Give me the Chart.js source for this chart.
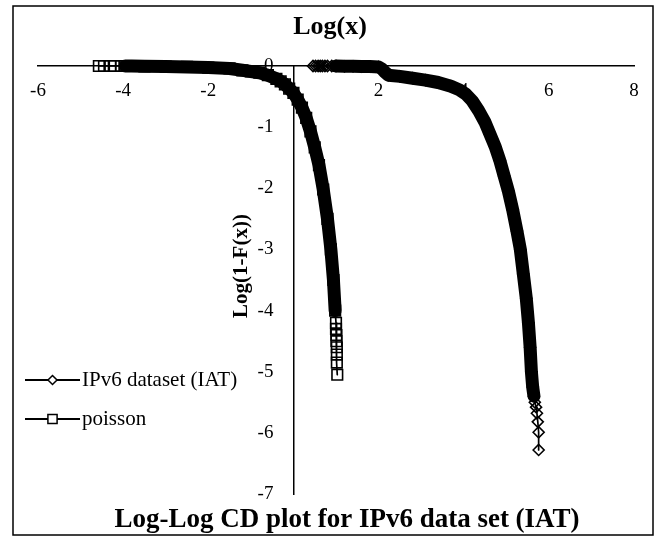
<!DOCTYPE html>
<html><head><meta charset="utf-8">
<script src="https://cdn.jsdelivr.net/npm/chart.js@4.4.1/dist/chart.umd.min.js"></script>
<style>html,body{margin:0;padding:0;background:#fff}#c{display:block}</style>
</head><body>
<canvas id="c" width="660" height="536"></canvas>
<script>
// ---- data ----
const seriesNames = ['IPv6 dataset (IAT)', 'poisson'];
const chartTitle = 'Log-Log CD plot for IPv6 data set (IAT)';
const xAxisTitle = 'Log(x)';
const yAxisTitle = 'Log(1-F(x))';
const xTickValues = [-6, -4, -2, 0, 2, 4, 6, 8];
const yTickValues = [0, -1, -2, -3, -4, -5, -6, -7];

const ipv6X = [0.46, 0.52, 0.58, 0.63, 0.68, 0.74, 0.80, 0.90, 1.00, 1.20, 1.40, 1.60, 1.80, 2.00, 2.08, 2.15, 2.23,
  2.50, 2.80, 3.10, 3.40, 3.70, 3.90, 4.05, 4.20, 4.35, 4.50, 4.62, 4.74, 4.85, 4.95, 5.05, 5.15, 5.25, 5.33,
  5.40, 5.47, 5.52, 5.56, 5.59, 5.62, 5.65, 5.67, 5.70, 5.72, 5.74, 5.76, 5.76];
const ipv6Y = [0, 0, 0, 0, 0, 0, 0, 0, 0, -0.005, -0.005, -0.01, -0.01, -0.015, -0.05, -0.10, -0.15,
  -0.17, -0.20, -0.23, -0.27, -0.33, -0.39, -0.46, -0.57, -0.73, -0.92, -1.12, -1.32, -1.55, -1.80, -2.05, -2.35, -2.70, -3.00,
  -3.40, -3.80, -4.20, -4.60, -5.00, -5.25, -5.40, -5.50, -5.58, -5.68, -5.82, -5.99, -6.28];

const poissonX = [-4.57, -4.45, -4.30, -4.22, -4.05, -3.95, -3.80, -3.50, -3.00, -2.50, -2.00, -1.50, -1.20, -1.00,
  -0.80, -0.60, -0.40, -0.30, -0.20, -0.10, 0.00, 0.10, 0.20, 0.30, 0.40, 0.50, 0.60, 0.70, 0.80, 0.88, 0.94, 0.98,
  1.00, 1.00, 1.01, 1.01, 1.02, 1.02, 1.02, 1.03];
const poissonY = [0, 0, 0, 0, 0, 0, 0, -0.005, -0.01, -0.015, -0.025, -0.04, -0.07, -0.09,
  -0.11, -0.15, -0.21, -0.25, -0.30, -0.37, -0.44, -0.55, -0.68, -0.85, -1.07, -1.33, -1.62, -2.02, -2.50, -3.00, -3.50, -4.00,
  -4.20, -4.30, -4.40, -4.50, -4.60, -4.72, -4.85, -5.05];

// ---- build ----
const toPts = (xs, ys) => xs.map((x, i) => ({x: x, y: ys[i]}));
const SERIF = '"Liberation Serif", "Times New Roman", serif';
const BAND = 13, THIN = 1.7;

function segWidth(head, tail) {
  return ctx => {
    const n = ctx.chart.data.datasets[ctx.datasetIndex].data.length;
    return (ctx.p0DataIndex < head || ctx.p1DataIndex > n - 1 - tail) ? THIN : BAND;
  };
}

const datasets = [
  {label: seriesNames[0], data: toPts(ipv6X, ipv6Y), showLine: true, borderColor: '#000', borderWidth: BAND, clip: false,
   pointStyle: 'rectRot', pointRadius: 5.5, pointBorderWidth: 1.6, pointBackgroundColor: 'rgba(0,0,0,0)',
   pointBorderColor: '#000', borderJoinStyle: 'round', borderCapStyle: 'round',
   segment: {borderWidth: segWidth(8, 6)}},
  {label: seriesNames[1], data: toPts(poissonX, poissonY), showLine: true, borderColor: '#000', borderWidth: BAND, clip: false,
   pointStyle: 'rect', pointRadius: 7.5, pointBorderWidth: 1.6, pointBackgroundColor: 'rgba(0,0,0,0)',
   pointBorderColor: '#000', borderJoinStyle: 'round', borderCapStyle: 'round',
   segment: {borderWidth: segWidth(5, 8)}}
];

function drawMarker(ctx, style, x, y, r) {
  ctx.beginPath();
  if (style === 'rect') {
    const s = r * Math.SQRT1_2;
    ctx.rect(x - s, y - s, 2 * s, 2 * s);
  } else {
    ctx.moveTo(x, y - r); ctx.lineTo(x + r, y); ctx.lineTo(x, y + r); ctx.lineTo(x - r, y); ctx.closePath();
  }
  ctx.fillStyle = '#fff'; ctx.fill(); ctx.stroke();
}

const decor = {
  id: 'decor',
  beforeDraw(chart) {
    const ctx = chart.ctx;
    ctx.save();
    ctx.fillStyle = '#fff';
    ctx.fillRect(0, 0, chart.width, chart.height);
    ctx.strokeStyle = '#000'; ctx.lineWidth = 1.5;
    ctx.strokeRect(13, 6, 640, 529);
    ctx.restore();
    // keep the y tick labels a little to the left of the crossing axis line
    const ys = chart.scales.y;
    if (ys && ys.getLabelItems) {
      const items = ys.getLabelItems();
      if (items && !items._shifted) {
        items.forEach(it => { if (it.options && it.options.translation) it.options.translation[0] -= 20; });
        items._shifted = true;
      }
    }
  },
  afterDraw(chart) {
    const ctx = chart.ctx;
    ctx.save();
    ctx.fillStyle = '#000';
    ctx.textAlign = 'center';
    ctx.textBaseline = 'middle';
    ctx.font = 'bold 26px ' + SERIF;
    ctx.fillText(xAxisTitle, 330, 27);
    ctx.font = 'bold 27px ' + SERIF;
    ctx.textBaseline = 'alphabetic';
    ctx.fillText(chartTitle, 347, 527);
    ctx.save();
    ctx.translate(242, 266);
    ctx.rotate(-Math.PI / 2);
    ctx.textBaseline = 'middle';
    ctx.font = 'bold 21px ' + SERIF;
    ctx.fillText(yAxisTitle, 0, 0);
    ctx.restore();
    // legend
    const rows = [380, 419];
    chart.data.datasets.forEach((ds, i) => {
      const y = rows[i];
      ctx.strokeStyle = '#000'; ctx.lineWidth = 2;
      ctx.beginPath(); ctx.moveTo(25, y); ctx.lineTo(80, y); ctx.stroke();
      ctx.lineWidth = 1.5;
      drawMarker(ctx, ds.pointStyle, 52.5, y, ds.pointStyle === 'rect' ? 6.5 : 4.5);
      ctx.fillStyle = '#000';
      ctx.font = '21px ' + SERIF;
      ctx.textAlign = 'left'; ctx.textBaseline = 'middle';
      ctx.fillText(ds.label, 82, y);
    });
    ctx.restore();
  }
};

new Chart(document.getElementById('c'), {
  type: 'scatter',
  data: {datasets: datasets},
  plugins: [decor],
  options: {
    responsive: false,
    devicePixelRatio: 1,
    animation: false,
    layout: {padding: {left: 38, right: 26, top: 66, bottom: 42}},
    elements: {line: {tension: 0}},
    plugins: {legend: {display: false}, tooltip: {enabled: false}, title: {display: false}},
    scales: {
      x: {
        type: 'linear', min: -6, max: 8, position: {y: 0},
        afterFit: s => { s.height = 0; },
        afterBuildTicks: s => { s.ticks = xTickValues.map(v => ({value: v})); },
        grid: {display: true, color: 'rgba(0,0,0,0)', drawTicks: false},
        border: {display: true, color: '#000', width: 1.5},
        ticks: {color: '#000', font: {family: SERIF, size: 19}, padding: 14, maxRotation: 0, minRotation: 0, autoSkip: false,
          callback: v => (v === 0 ? '' : String(v))}
      },
      y: {
        type: 'linear', min: -7, max: 0, position: {x: 0},
        afterFit: s => { s.width = 0; },
        afterBuildTicks: s => { s.ticks = yTickValues.map(v => ({value: v})); },
        grid: {display: true, color: 'rgba(0,0,0,0)', drawTicks: false},
        border: {display: true, color: '#000', width: 1.5},
        ticks: {color: '#000', font: {family: SERIF, size: 19}, autoSkip: false,
          callback: v => String(v)}
      }
    }
  }
});
</script>
</body></html>
